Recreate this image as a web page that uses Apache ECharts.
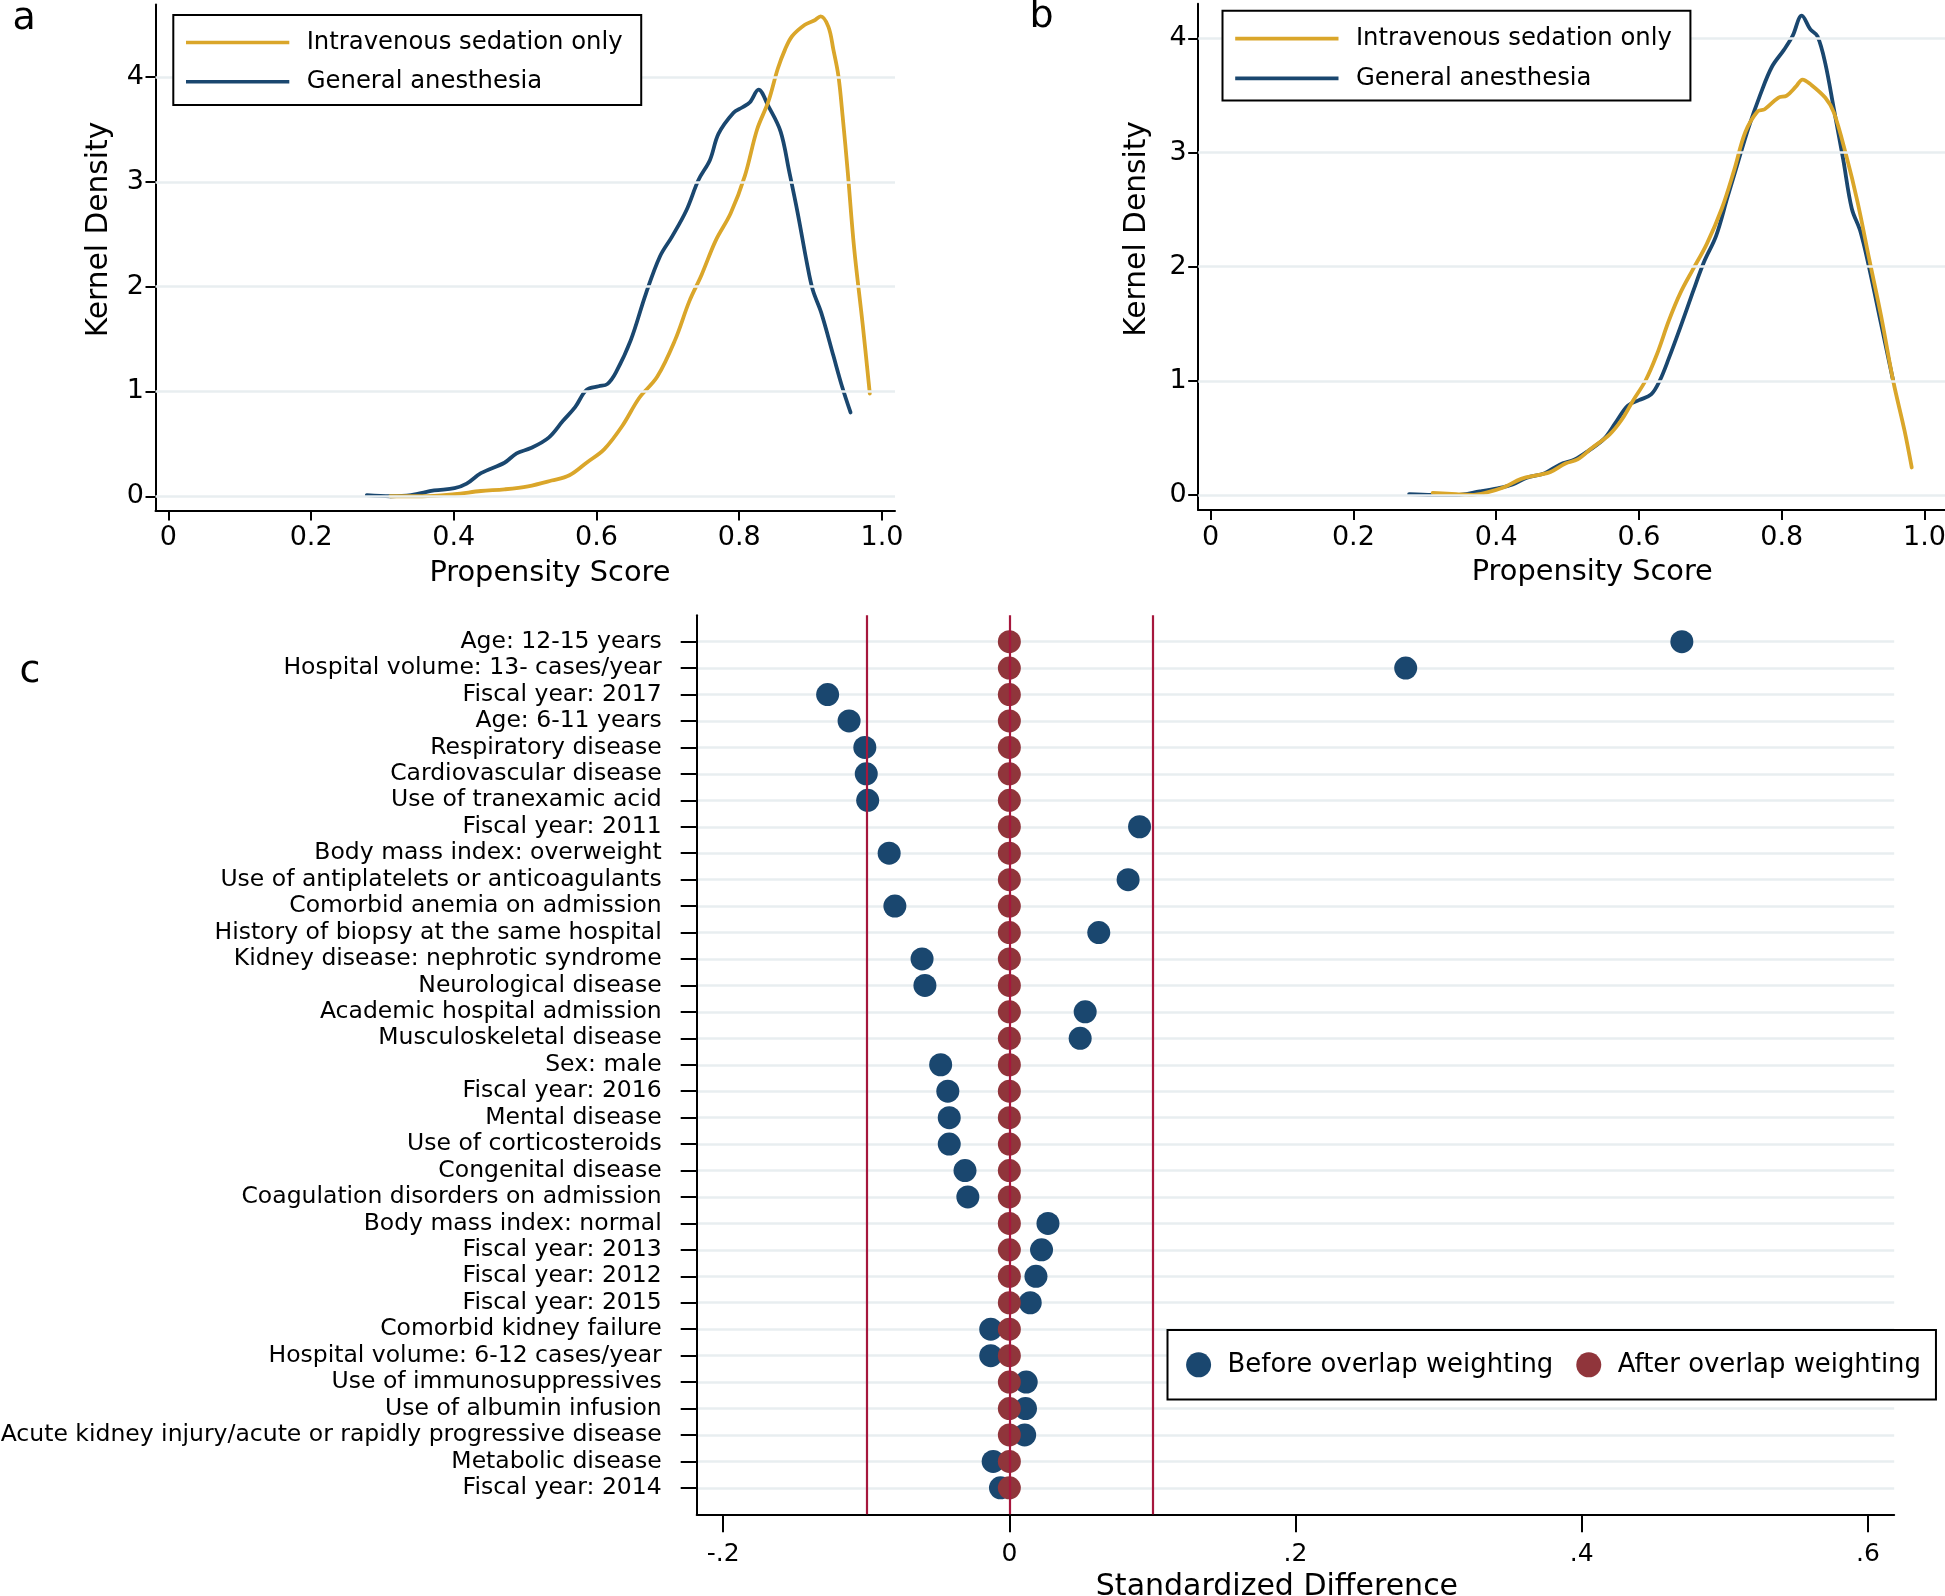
<!DOCTYPE html>
<html><head><meta charset="utf-8">
<script src="https://cdn.jsdelivr.net/npm/echarts@6/dist/echarts.min.js"></script>
<style>html,body{margin:0;padding:0;background:#fff}#c{width:1945px;height:1596px}</style>
</head><body><div id="c"></div>
<script>
const FONT = 'DejaVu Sans';
const seriesNames = ['Intravenous sedation only', 'General anesthesia'];
// Panel a: kernel density before weighting [propensity score, density]
const aIV = [[0.311,0],[0.356,0],[0.401,0.02],[0.438,0.05],[0.471,0.066],[0.504,0.095],[0.537,0.15],[0.562,0.2],[0.586,0.32],[0.611,0.45],[0.636,0.67],[0.66,0.94],[0.685,1.14],[0.71,1.49],[0.73,1.86],[0.747,2.11],[0.767,2.44],[0.788,2.7],[0.808,3.06],[0.825,3.5],[0.841,3.77],[0.854,4.08],[0.864,4.26],[0.874,4.39],[0.892,4.5],[0.905,4.54],[0.914,4.58],[0.925,4.48],[0.932,4.26],[0.939,4.01],[0.945,3.62],[0.952,3.1],[0.961,2.37],[0.973,1.64],[0.983,0.98]];
const aGA = [[0.278,0.01],[0.311,0],[0.34,0.01],[0.3725,0.055],[0.401,0.077],[0.418,0.12],[0.438,0.22],[0.471,0.32],[0.488,0.41],[0.508,0.46],[0.533,0.56],[0.553,0.72],[0.57,0.85],[0.586,1.015],[0.603,1.05],[0.615,1.07],[0.627,1.18],[0.648,1.49],[0.669,1.93],[0.689,2.29],[0.706,2.48],[0.726,2.73],[0.743,3.02],[0.759,3.21],[0.771,3.46],[0.792,3.66],[0.804,3.71],[0.815,3.76],[0.827,3.88],[0.841,3.72],[0.858,3.48],[0.87,3.1],[0.882,2.7],[0.895,2.22],[0.903,1.97],[0.915,1.75],[0.932,1.34],[0.944,1.05],[0.956,0.8]];
// Panel b: kernel density after weighting
const bIV = [[0.311,0.017],[0.344,0.007],[0.365,0],[0.386,0.02],[0.41,0.064],[0.435,0.14],[0.46,0.175],[0.476,0.2],[0.497,0.275],[0.514,0.31],[0.534,0.41],[0.559,0.53],[0.576,0.66],[0.592,0.83],[0.609,1.0],[0.625,1.23],[0.642,1.53],[0.658,1.77],[0.675,1.97],[0.695,2.2],[0.716,2.51],[0.733,2.84],[0.749,3.18],[0.766,3.36],[0.776,3.38],[0.795,3.48],[0.807,3.5],[0.82,3.58],[0.829,3.64],[0.84,3.6],[0.861,3.48],[0.873,3.35],[0.89,2.98],[0.906,2.57],[0.923,2.05],[0.939,1.57],[0.956,1.0],[0.972,0.56],[0.982,0.24]];
const bGA = [[0.278,0.007],[0.311,0],[0.344,0],[0.377,0.03],[0.402,0.057],[0.423,0.09],[0.443,0.15],[0.468,0.19],[0.489,0.265],[0.51,0.31],[0.53,0.39],[0.551,0.49],[0.567,0.63],[0.584,0.78],[0.6,0.83],[0.617,0.88],[0.629,1.0],[0.642,1.2],[0.658,1.47],[0.675,1.77],[0.691,2.04],[0.708,2.27],[0.724,2.61],[0.737,2.88],[0.753,3.21],[0.77,3.51],[0.786,3.75],[0.803,3.9],[0.815,4.02],[0.828,4.2],[0.84,4.08],[0.85,4.02],[0.861,3.78],[0.873,3.38],[0.886,2.94],[0.898,2.51],[0.91,2.31],[0.922,2.0],[0.939,1.5],[0.956,1.0]];
const psTicks = [0, 0.2, 0.4, 0.6, 0.8, 1.0];
const psTickLabels = ['0', '0.2', '0.4', '0.6', '0.8', '1.0'];
const densTicks = [0, 1, 2, 3, 4];
const densTickLabels = ['0', '1', '2', '3', '4'];
// Panel c: standardized differences
const covariates = ["Age: 12-15 years","Hospital volume: 13- cases/year","Fiscal year: 2017","Age: 6-11 years","Respiratory disease","Cardiovascular disease","Use of tranexamic acid","Fiscal year: 2011","Body mass index: overweight","Use of antiplatelets or anticoagulants","Comorbid anemia on admission","History of biopsy at the same hospital","Kidney disease: nephrotic syndrome","Neurological disease","Academic hospital admission","Musculoskeletal disease","Sex: male","Fiscal year: 2016","Mental disease","Use of corticosteroids","Congenital disease","Coagulation disorders on admission","Body mass index: normal","Fiscal year: 2013","Fiscal year: 2012","Fiscal year: 2015","Comorbid kidney failure","Hospital volume: 6-12 cases/year","Use of immunosuppressives","Use of albumin infusion","Acute kidney injury/acute or rapidly progressive disease","Metabolic disease","Fiscal year: 2014"];
const sdBefore = [0.470,0.277,-0.127,-0.112,-0.101,-0.100,-0.099,0.091,-0.084,0.083,-0.080,0.0625,-0.061,-0.059,0.053,0.0495,-0.048,-0.043,-0.042,-0.042,-0.031,-0.029,0.027,0.0225,0.0186,0.0146,-0.013,-0.013,0.0118,0.0113,0.0107,-0.0113,-0.0062];
const sdAfter = [0,0,0,0,0,0,0,0,0,0,0,0,0,0,0,0,0,0,0,0,0,0,0,0,0,0,0,0,0,0,0,0,0];
const sdTicks = [-0.2, 0, 0.2, 0.4, 0.6];
const sdTickLabels = ['-.2', '0', '.2', '.4', '.6'];
const sdThresholds = [-0.1, 0, 0.1];
const balanceNames = ['Before overlap weighting', 'After overlap weighting'];

const GOLD = '#daa62a', NAVY = '#1a476f', MAROON = '#90353b', CRIMSON = '#a6173d', GRID = '#e8eef0';

function lab(ticks, labels) {
  return function (v) {
    let k = 0, best = Infinity;
    ticks.forEach((t, i) => { const d = Math.abs(t - v); if (d < best) { best = d; k = i; } });
    return labels[k];
  };
}
const axisLineStyle = { show: true, onZero: false, lineStyle: { color: '#000', width: 2 } };

function psX(gi, min, max, pad) {
  return { type: 'value', gridIndex: gi, min: min, max: max,
    name: 'Propensity Score', nameLocation: 'middle', nameGap: 48.5,
    nameTextStyle: { fontFamily: FONT, fontSize: 28.8, color: '#000', padding: pad },
    axisLine: axisLineStyle,
    axisTick: { show: true, length: 10, lineStyle: { color: '#000', width: 2 }, customValues: psTicks },
    axisLabel: { show: true, margin: 14.4, fontFamily: FONT, fontSize: 27, color: '#000', customValues: psTicks, formatter: lab(psTicks, psTickLabels) },
    splitLine: { show: false } };
}
function densY(gi, min, max, gap, pad) {
  return { type: 'value', gridIndex: gi, min: min, max: max,
    name: 'Kernel Density', nameLocation: 'middle', nameGap: gap, nameRotate: 90,
    nameTextStyle: { fontFamily: FONT, fontSize: 29.7, color: '#000', padding: pad },
    axisLine: axisLineStyle,
    axisTick: { show: true, length: 10, lineStyle: { color: '#000', width: 2 }, customValues: densTicks },
    axisLabel: { show: true, margin: 11.5, fontFamily: FONT, fontSize: 27, color: '#000', customValues: densTicks, formatter: lab(densTicks, densTickLabels) },
    splitLine: { show: false } };
}
function gridLines(xi, yi) {
  return { type: 'line', xAxisIndex: xi, yAxisIndex: yi, data: [], silent: true, z: 1,
    markLine: { silent: true, symbol: ['none', 'none'], label: { show: false }, animation: false,
      lineStyle: { color: GRID, width: 2.5, type: 'solid' },
      emphasis: { disabled: true },
      data: densTicks.map(v => ({ yAxis: v })) } };
}
function curve(name, data, color, xi, yi, z) {
  return { type: 'line', name: name, data: data, xAxisIndex: xi, yAxisIndex: yi, z: z,
    symbol: 'none', showSymbol: false, smooth: 0.35,
    lineStyle: { color: color, width: 3.8, join: 'round', cap: 'round' }, itemStyle: { color: color } };
}
function lineLegend(left, top, pad, gap) {
  return { orient: 'vertical', left: left, top: top, padding: pad, itemGap: gap,
    icon: 'rect', itemWidth: 103.3, itemHeight: 3.6, borderColor: '#000', borderWidth: 2,
    backgroundColor: '#fff', z: 10,
    selectedMode: false, data: seriesNames,
    textStyle: { fontFamily: FONT, fontSize: 24.3, lineHeight: 28, color: '#000', padding: [0, 0, 0, 12.4] } };
}
const catData = [''].concat(covariates, ['']);
const inner = (i) => i > 0 && i <= covariates.length;

const option = {
  animation: false,
  textStyle: { fontFamily: FONT },
  title: [
    { text: 'a', left: 12.4, top: 0.5, padding: 0, textStyle: { fontFamily: FONT, fontSize: 38, fontWeight: 'normal', color: '#000' } },
    { text: 'b', left: 1029.5, top: -1.5, padding: 0, textStyle: { fontFamily: FONT, fontSize: 38, fontWeight: 'normal', color: '#000' } },
    { text: 'c', left: 19.4, top: 653, padding: 0, textStyle: { fontFamily: FONT, fontSize: 38, fontWeight: 'normal', color: '#000' } }
  ],
  legend: [
    lineLegend(173.3, 15, [13.5, 18.6, 9.2, 12.7], 11.3),
    lineLegend(1222.5, 10.7, [13.9, 18.6, 8.2, 12.7], 11.8),
    { orient: 'horizontal', left: 1167.5, top: 1330, padding: [21.8, 15, 21.8, 18.6], itemGap: 23,
      itemWidth: 25, itemHeight: 25, icon: 'circle', borderColor: '#000', borderWidth: 2,
      backgroundColor: '#fff', z: 10,
      selectedMode: false, data: balanceNames,
      textStyle: { fontFamily: FONT, fontSize: 25.9, lineHeight: 26, color: '#000', padding: [0, 0, 0, 11.5] } }
  ],
  grid: [
    { left: 155.5, top: 4.6, width: 739.5, height: 505.8, outerBoundsMode: 'none', containLabel: false },
    { left: 1198.2, top: 3.8, width: 747.8, height: 506.1, outerBoundsMode: 'none', containLabel: false },
    { left: 696.7, top: 615.2, width: 1197.5, height: 899.1, outerBoundsMode: 'none', containLabel: false }
  ],
  xAxis: [
    psX(0, -0.0181, 1.0183, [0, 0, 0, 49.4]),
    psX(1, -0.0174, 1.03, [0, 0, 0, 40.4]),
    { type: 'value', gridIndex: 2, min: -0.2185, max: 0.6184,
      name: 'Standardized Difference', nameLocation: 'middle', nameGap: 55,
      nameTextStyle: { fontFamily: FONT, fontSize: 30, color: '#000', padding: [0, 37, 0, 0] },
      axisLine: axisLineStyle,
      axisTick: { show: true, length: 18, lineStyle: { color: '#000', width: 2 }, customValues: sdTicks },
      axisLabel: { show: true, margin: 27.8, fontFamily: FONT, fontSize: 25, color: '#000', customValues: sdTicks, formatter: lab(sdTicks, sdTickLabels) },
      splitLine: { show: false } }
  ],
  yAxis: [
    densY(0, -0.135, 4.692, 41.5, [0, 0, 0, 56]),
    densY(1, -0.132, 4.304, 46, [0, 0, 0, 56]),
    { type: 'category', gridIndex: 2, inverse: true, boundaryGap: false, data: catData,
      axisLine: axisLineStyle,
      axisTick: { show: true, length: 16, interval: inner, lineStyle: { color: '#000', width: 2 } },
      axisLabel: { show: true, interval: 0, margin: 35, fontFamily: FONT, fontSize: 23.5, color: '#000' },
      splitLine: { show: true, interval: inner, lineStyle: { color: GRID, width: 2.5 } } }
  ],
  series: [
    gridLines(0, 0),
    gridLines(1, 1),
    curve(seriesNames[1], aGA, NAVY, 0, 0, 3),
    curve(seriesNames[0], aIV, GOLD, 0, 0, 4),
    curve(seriesNames[1], bGA, NAVY, 1, 1, 3),
    curve(seriesNames[0], bIV, GOLD, 1, 1, 4),
    { type: 'line', xAxisIndex: 2, yAxisIndex: 2, data: [], silent: true, z: 1,
      markLine: { silent: true, symbol: ['none', 'none'], label: { show: false }, animation: false,
        lineStyle: { color: CRIMSON, width: 2.2, type: 'solid' }, emphasis: { disabled: true },
        data: sdThresholds.map(v => ({ xAxis: v })) } },
    { type: 'scatter', name: balanceNames[0], xAxisIndex: 2, yAxisIndex: 2, z: 3,
      symbol: 'circle', symbolSize: 23, itemStyle: { color: NAVY, opacity: 1 },
      data: covariates.map((c, i) => [sdBefore[i], c]) },
    { type: 'scatter', name: balanceNames[1], xAxisIndex: 2, yAxisIndex: 2, z: 4,
      symbol: 'circle', symbolSize: 23, itemStyle: { color: MAROON, opacity: 1 },
      data: covariates.map((c, i) => [sdAfter[i], c]) }
  ]
};
const chart = echarts.init(document.getElementById('c'), null, { renderer: 'canvas', width: 1945, height: 1596 });
chart.setOption(option);
</script></body></html>
